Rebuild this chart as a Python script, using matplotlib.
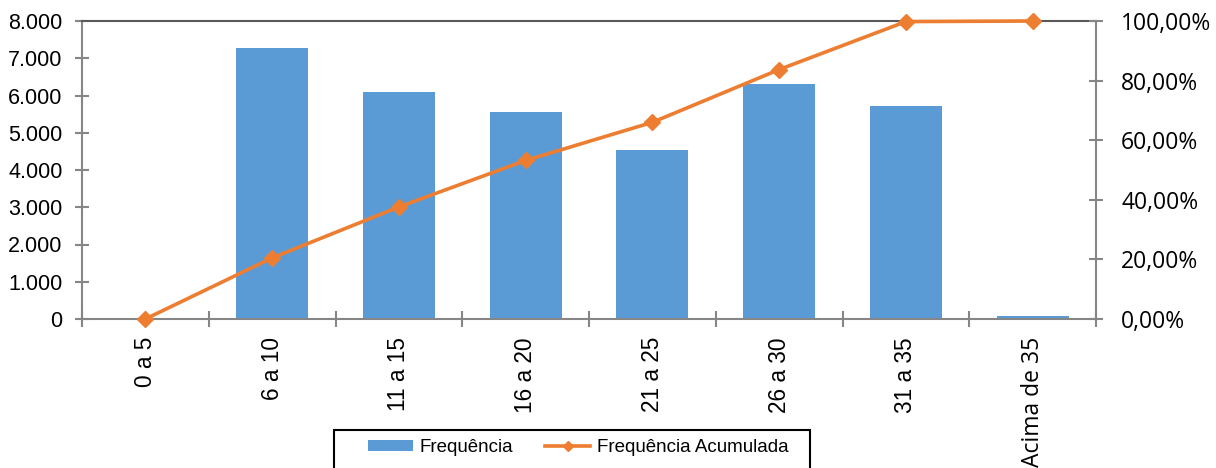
import matplotlib
matplotlib.use("Agg")
import matplotlib.pyplot as plt
from matplotlib.ticker import FuncFormatter, FixedLocator
from matplotlib.lines import Line2D
from matplotlib.patches import Patch, Rectangle

categories = ["0 a 5", "6 a 10", "11 a 15", "16 a 20", "21 a 25", "26 a 30", "31 a 35", "Acima de 35"]
frequencia = [0, 7270, 6090, 5560, 4540, 6310, 5720, 75]
acumulada = [0.0, 20.5, 37.6, 53.2, 66.0, 83.7, 99.8, 100.0]
left_ticks = [0, 1000, 2000, 3000, 4000, 5000, 6000, 7000, 8000]
right_ticks = [0, 20, 40, 60, 80, 100]

BAR = "#5B9BD5"
LINE = "#ED7D31"
AX = "#868686"

fig = plt.figure(figsize=(12.16, 4.68), dpi=100)
ax = fig.add_axes([82/1216, 1-319/468, (1096-82)/1216, (319-21)/468])
x = list(range(len(categories)))
ax.bar(x, frequencia, width=0.57, color=BAR, zorder=2)
ax.set_xlim(-0.5, len(categories)-0.5)
ax.set_ylim(0, 8000)
ax.set_yticks(left_ticks)
ax.yaxis.set_major_formatter(FuncFormatter(lambda v, p: f"{int(v):,}".replace(",", ".")))
for lab in ax.get_yticklabels():
    lab.set_fontfamily("Liberation Sans")
ax.tick_params(axis="y", direction="inout", length=10, width=1.5, color=AX,
               labelsize=15.5, pad=9, labelcolor="black")
ax.set_xticks(x)
ax.set_xticklabels(categories, rotation=90, va="top", ha="center")
for i, lab in enumerate(ax.get_xticklabels()):
    if categories[i].startswith("Acima"):
        lab.set_fontfamily("Open Sans")
        lab.set_fontsize(16.5)
    else:
        lab.set_fontfamily("Liberation Sans")
        lab.set_fontsize(16.3)
ax.tick_params(axis="x", which="major", length=0, pad=13)
ax.xaxis.set_minor_locator(FixedLocator([i - 0.5 for i in range(len(categories)+1)]))
ax.tick_params(axis="x", which="minor", direction="inout", length=11, width=1.5, color=AX)

for s in ["left", "bottom", "right"]:
    ax.spines[s].set_color(AX)
    ax.spines[s].set_linewidth(1.5)
ax.spines["top"].set_color("#595959")
ax.spines["top"].set_linewidth(1.5)

ax2 = ax.twinx()
ax2.plot(x, acumulada, color=LINE, lw=2.6, marker="D", markersize=8, zorder=3, clip_on=False)
ax2.set_ylim(0, 100)
ax2.set_yticks(right_ticks)
ax2.yaxis.set_major_formatter(FuncFormatter(lambda v, p: f"{v:.2f}".replace(".", ",") + "%"))
for lab in ax2.get_yticklabels():
    lab.set_fontfamily("Open Sans")
ax2.tick_params(axis="y", direction="inout", length=10, width=1.5, color=AX,
                labelsize=16.5, pad=13, labelcolor="black")
for s in ["left", "bottom", "right", "top"]:
    ax2.spines[s].set_visible(False)

# legend frame (extends below the figure edge, as in the reference)
fig.patches.append(Rectangle((334/1216, 1-490/468), 476/1216, 60/468, transform=fig.transFigure,
                             fill=False, edgecolor="black", linewidth=1.5, clip_on=False))
handles = [Patch(facecolor=BAR, edgecolor="none"),
           Line2D([0], [0], color=LINE, lw=2.6, marker="D", markersize=5)]
leg = fig.legend(handles, ["Frequência", "Frequência Acumulada"], loc="upper left",
                 bbox_to_anchor=(368/1216, 1-439/468), ncol=2, frameon=False,
                 handlelength=2.4, handleheight=0.53, borderpad=0, borderaxespad=0,
                 columnspacing=1.7, handletextpad=0.37,
                 prop={"family": "Liberation Sans", "size": 13.5})

fig.savefig("out.png", dpi=100)
